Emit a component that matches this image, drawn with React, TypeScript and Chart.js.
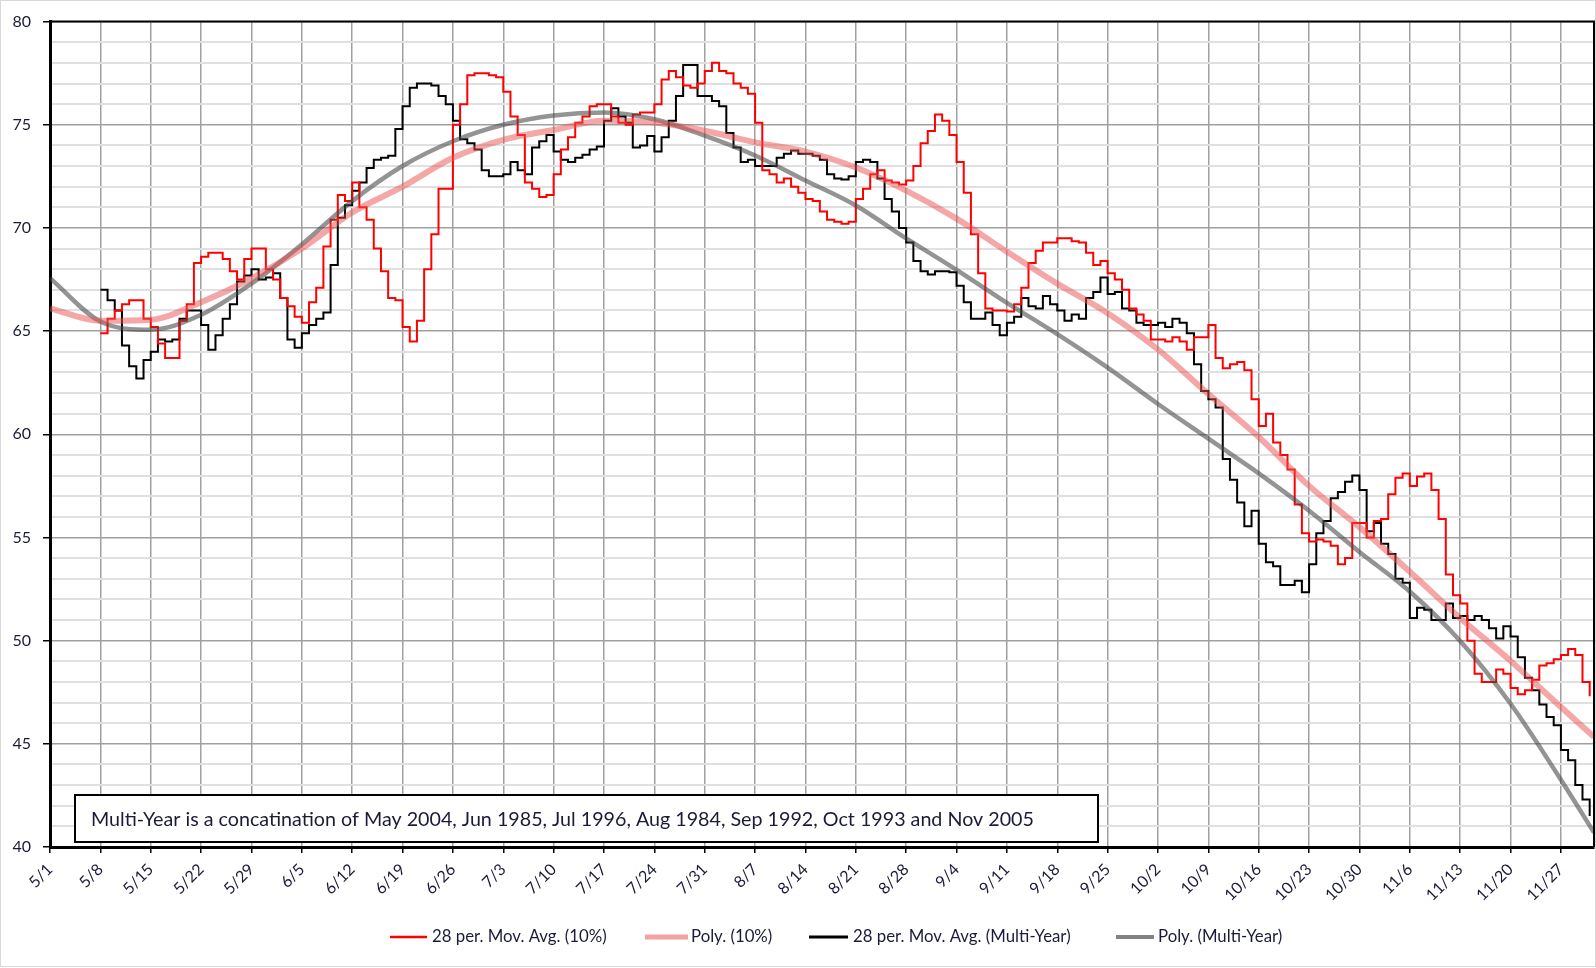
import React, { useEffect, useRef } from 'react';
import { Chart, registerables } from 'chart.js';

Chart.register(...registerables);

// X tick labels (one every 7 days, starting 5/1 = day 0)
const tickLabels = [
  '5/1', '5/8', '5/15', '5/22', '5/29', '6/5', '6/12', '6/19', '6/26', '7/3', '7/10',
  '7/17', '7/24', '7/31', '8/7', '8/14', '8/21', '8/28', '9/4', '9/11', '9/18', '9/25',
  '10/2', '10/9', '10/16', '10/23', '10/30', '11/6', '11/13', '11/20', '11/27',
];
const yTickLabels = ['40', '45', '50', '55', '60', '65', '70', '75', '80'];

// Moving-average series: daily values starting at day 7 (5/8)
const maStartDay = 7;
const redMA = [
  64.9, 65.6, 66.0, 66.3, 66.5, 66.5, 65.6,
  65.2, 64.4, 63.7, 63.7, 65.5, 66.3, 68.3,
  68.6, 68.8, 68.8, 68.5, 67.9, 67.5, 68.5,
  69.0, 69.0, 68.0, 67.5, 66.6, 66.2, 65.7,
  65.4, 66.4, 67.1, 69.1, 70.4, 71.6, 71.3,
  72.2, 71.0, 70.4, 69.0, 67.9, 66.6, 66.5,
  65.2, 64.5, 65.5, 68.0, 69.7, 71.9, 71.9,
  75.0, 76.0, 77.4, 77.5, 77.5, 77.4, 77.3,
  76.6, 75.4, 74.5, 72.2, 71.9, 71.5, 71.6,
  72.6, 73.8, 74.4, 75.1, 75.4, 75.9, 76.0,
  76.0, 75.4, 75.1, 75.0, 75.5, 75.6, 75.6,
  76.0, 77.2, 77.6, 77.3, 76.9, 76.8, 77.0,
  77.6, 78.0, 77.6, 77.5, 77.0, 76.8, 76.5,
  75.1, 72.8, 72.6, 72.2, 72.4, 72.0, 71.7,
  71.4, 71.3, 70.8, 70.4, 70.3, 70.2, 70.3,
  71.4, 71.9, 72.6, 72.8, 72.3, 72.2, 72.1,
  72.3, 73.0, 74.1, 74.7, 75.5, 75.2, 74.5,
  73.2, 71.7, 69.7, 67.8, 66.1, 66.0, 66.0,
  65.95, 66.3, 67.1, 68.3, 68.9, 69.3, 69.3,
  69.5, 69.5, 69.35, 69.3, 68.8, 68.2, 68.4,
  67.8, 67.5, 67.0, 66.1, 65.8, 65.5, 64.6,
  64.6, 64.5, 64.7, 64.5, 64.1, 64.7, 64.7,
  65.3, 63.7, 63.2, 63.4, 63.5, 63.1, 61.7,
  60.4, 61.0, 59.6, 59.0, 58.3, 56.6, 55.2,
  54.8, 54.9, 54.8, 54.6, 53.7, 54.0, 55.7,
  55.7, 55.0, 55.8, 55.9, 57.1, 57.9, 58.1,
  57.5, 57.95, 58.1, 57.3, 55.9, 53.2, 52.2,
  51.8, 50.0, 48.4, 48.0, 48.0, 48.6, 48.4,
  47.7, 47.4, 47.6, 48.1, 48.8, 48.9, 49.1,
  49.3, 49.6, 49.3, 48.0, 47.3,
];
const blackMA = [
  67.0, 66.5, 66.0, 64.3, 63.3, 62.7, 63.6,
  64.0, 64.6, 64.5, 64.6, 65.6, 66.0, 66.0,
  65.3, 64.1, 64.8, 65.6, 66.3, 67.4, 67.7,
  68.0, 67.5, 67.6, 67.8, 66.6, 64.6, 64.2,
  64.9, 65.3, 65.6, 65.9, 68.2, 70.5, 71.1,
  71.8, 72.2, 72.9, 73.3, 73.4, 73.5, 74.8,
  75.9, 76.8, 77.0, 77.0, 76.9, 76.4, 76.0,
  75.2, 74.3, 74.1, 73.8, 72.8, 72.5, 72.5,
  72.6, 73.2, 72.8, 72.6, 73.9, 74.2, 74.5,
  73.7, 73.3, 73.2, 73.4, 73.55, 73.8, 73.95,
  75.2, 75.8, 75.4, 75.1, 73.9, 74.0, 74.45,
  73.7, 74.4, 75.2, 76.4, 77.9, 77.9, 76.4,
  76.4, 76.15, 75.9, 74.6, 73.9, 73.2, 73.3,
  73.0, 73.0, 73.0, 73.4, 73.6, 73.75, 73.6,
  73.6, 73.5, 73.3, 72.6, 72.4, 72.35, 72.5,
  73.2, 73.3, 73.2, 72.4, 71.4, 70.8, 70.0,
  69.3, 68.4, 67.9, 67.75, 67.9, 67.9, 67.85,
  67.2, 66.4, 65.6, 65.6, 65.9, 65.3, 64.8,
  65.4, 65.7, 66.6, 66.2, 66.1, 66.7, 66.3,
  66.0, 65.5, 65.8, 65.6, 66.6, 66.9, 67.6,
  66.8, 66.9, 66.1, 66.0, 65.4, 65.3, 65.3,
  65.4, 65.2, 65.6, 65.4, 64.9, 63.4, 62.1,
  61.7, 61.3, 58.8, 57.8, 56.7, 55.55, 56.3,
  54.7, 53.8, 53.6, 52.7, 52.7, 52.9, 52.35,
  53.7, 55.2, 55.8, 56.9, 57.2, 57.7, 58.0,
  57.3, 55.3, 55.7, 54.7, 54.2, 53.0, 52.8,
  51.1, 51.6, 51.5, 51.0, 51.0, 51.8, 51.1,
  51.2, 51.0, 51.2, 51.0, 50.6, 50.1, 50.7,
  50.2, 49.2, 48.2, 47.6, 46.9, 46.3, 45.9,
  44.7, 44.2, 43.0, 42.3, 41.5,
];

// Polynomial trend lines read at weekly positions
const polyDays = [0, 7, 14, 21, 28, 35, 42, 49, 56, 63, 70, 77, 84, 91, 98, 105, 112, 119, 126, 133, 140, 147, 154, 161, 168, 175, 182, 189, 196, 203, 210, 214.6];
const redPoly = [66.1, 65.5, 65.55, 66.4, 67.55, 69.0, 70.75, 72.0, 73.4, 74.27, 74.75, 75.19, 75.11, 74.71, 74.15, 73.7, 72.93, 71.81, 70.45, 68.85, 67.3, 65.87, 64.11, 61.95, 59.87, 57.5, 55.5, 53.34, 51.1, 49.02, 46.78, 45.34];
const grayPoly = [67.57, 65.47, 65.07, 65.79, 67.3, 69.2, 71.3, 73.0, 74.2, 75.0, 75.45, 75.6, 75.27, 74.47, 73.51, 72.3, 71.09, 69.49, 67.97, 66.37, 64.85, 63.23, 61.47, 59.79, 58.11, 56.3, 54.3, 52.38, 49.98, 46.94, 43.26, 40.7];

const seriesNames = ['28 per. Mov. Avg. (10%)', 'Poly. (10%)', '28 per. Mov. Avg. (Multi-Year)', 'Poly. (Multi-Year)'];
const noteText = 'Multi-Year is a concatination of May 2004, Jun 1985, Jul 1996, Aug 1984, Sep 1992, Oct 1993 and Nov 2005';

const FONT = 'Lato, "Open Sans", sans-serif';
const TEXT = '#1b1b38';
const W = 1596;
const H = 968;

const framePlugin = {
  id: 'framePlugin',
  afterDraw(chart: any) {
    const { ctx, chartArea } = chart;
    const { left, right, top, bottom } = chartArea;
    ctx.save();
    // top & right border of plot
    ctx.strokeStyle = '#000';
    ctx.lineWidth = 2;
    ctx.beginPath();
    ctx.moveTo(left, top);
    ctx.lineTo(right, top);
    ctx.lineTo(right, bottom);
    ctx.stroke();

    // annotation box
    const bx = 75, by = 795, bw = 1023, bh = 47;
    ctx.fillStyle = '#fff';
    ctx.fillRect(bx, by, bw, bh);
    ctx.lineWidth = 2;
    ctx.strokeStyle = '#000';
    ctx.strokeRect(bx, by, bw, bh);
    ctx.fillStyle = TEXT;
    ctx.font = `19.7px ${FONT}`;
    ctx.textBaseline = 'middle';
    ctx.textAlign = 'left';
    ctx.fillText(noteText, 91, by + bh / 2 + 1);

    // legend
    const ly = 937;
    const items = [
      { x: 390, w: 37, color: '#ff0000', lw: 2.5, tx: 432 },
      { x: 645, w: 43, color: 'rgba(235,100,100,0.6)', lw: 5, tx: 691 },
      { x: 809, w: 39, color: '#000', lw: 3, tx: 853 },
      { x: 1116, w: 38, color: 'rgba(90,90,90,0.75)', lw: 4, tx: 1158 },
    ];
    ctx.font = `16.8px ${FONT}`;
    items.forEach((it, i) => {
      ctx.strokeStyle = it.color;
      ctx.lineWidth = it.lw;
      ctx.beginPath();
      ctx.moveTo(it.x, ly);
      ctx.lineTo(it.x + it.w, ly);
      ctx.stroke();
      ctx.fillStyle = TEXT;
      ctx.fillText(seriesNames[i], it.tx, ly);
    });

    // outer light frame
    ctx.strokeStyle = '#d9d9d9';
    ctx.lineWidth = 1;
    ctx.strokeRect(0.5, 0.5, W - 1, H - 2);
    ctx.restore();
  },
};

export default function App() {
  const ref = useRef<HTMLCanvasElement | null>(null);

  useEffect(() => {
    if (!ref.current) return;
    const redPts = redMA.map((y, i) => ({ x: maStartDay + i, y }));
    const blackPts = blackMA.map((y, i) => ({ x: maStartDay + i, y }));
    const redPolyPts = polyDays.map((x, i) => ({ x, y: redPoly[i] }));
    const grayPolyPts = polyDays.map((x, i) => ({ x, y: grayPoly[i] }));

    const chart = new Chart(ref.current, {
      type: 'line',
      data: {
        datasets: [
          {
            label: seriesNames[1],
            data: redPolyPts,
            borderColor: 'rgba(235,80,80,0.5)',
            borderWidth: 6,
            pointRadius: 0,
            cubicInterpolationMode: 'monotone',
            order: 0,
          },
          {
            label: seriesNames[3],
            data: grayPolyPts,
            borderColor: 'rgba(70,70,70,0.58)',
            borderWidth: 4.5,
            pointRadius: 0,
            cubicInterpolationMode: 'monotone',
            order: 0,
          },
          {
            label: seriesNames[0],
            data: redPts,
            borderColor: '#ff0000',
            borderWidth: 2,
            pointRadius: 0,
            stepped: true,
            order: 1,
          },
          {
            label: seriesNames[2],
            data: blackPts,
            borderColor: '#000000',
            borderWidth: 2,
            pointRadius: 0,
            stepped: true,
            order: 1,
          },
        ],
      },
      options: {
        animation: false,
        responsive: false,
        devicePixelRatio: 1,
        layout: { padding: { top: 14, right: 2, left: 0, bottom: 0 }, autoPadding: false },
        plugins: { legend: { display: false }, tooltip: { enabled: false } },
        scales: {
          x: {
            type: 'linear',
            min: 0,
            max: 214.6,
            afterFit: (s: any) => { s.height = 121; },
            ticks: {
              stepSize: 7,
              includeBounds: false,
              autoSkip: false,
              maxRotation: 45,
              minRotation: 45,
              padding: 7,
              color: TEXT,
              font: { family: FONT, size: 16 },
              callback: (v: any) => {
                const idx = Math.round(Number(v) / 7);
                return Math.abs(Number(v) - idx * 7) < 1e-6 ? (tickLabels[idx] ?? '') : '';
              },
            },
            grid: { color: '#a0a0a0', lineWidth: 1.5, tickColor: '#000', tickLength: 6 },
            border: { color: '#000', width: 3 },
          },
          y: {
            min: 40,
            max: 80,
            afterFit: (s: any) => { s.width = 50; },
            ticks: {
              stepSize: 1,
              autoSkip: false,
              padding: 12,
              color: TEXT,
              font: { family: FONT, size: 16 },
              callback: (v: any) => {
                const n = Number(v);
                return n % 5 === 0 ? yTickLabels[(n - 40) / 5] : '';
              },
            },
            grid: {
              color: (c: any) => (c.tick && c.tick.value % 5 === 0 ? '#a0a0a0' : '#e0e0e0'),
              lineWidth: (c: any) => (c.tick && c.tick.value % 5 === 0 ? 1.5 : 2),
              tickColor: (c: any) => (c.tick && c.tick.value % 5 === 0 ? '#000' : 'rgba(0,0,0,0)'),
              tickLength: 7,
            },
            border: { color: '#000', width: 3 },
          },
        },
      },
      plugins: [framePlugin],
    });
    return () => chart.destroy();
  }, []);

  return (
    <div style={{ position: 'fixed', left: 0, top: 0, width: W, height: H, background: '#fff' }}>
      <canvas ref={ref} width={W} height={H} style={{ width: W, height: H, display: 'block' }} />
    </div>
  );
}
